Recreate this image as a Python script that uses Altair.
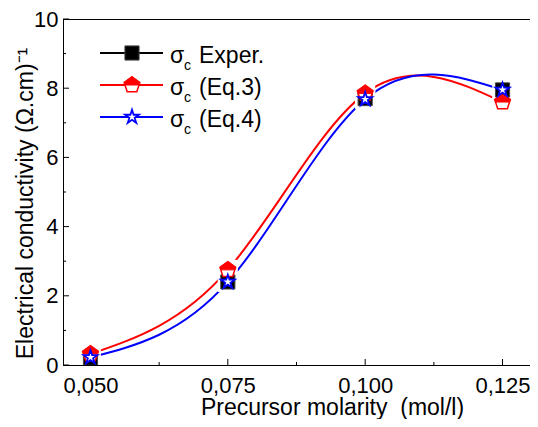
import altair as alt
import pandas as pd

# ---- data ----
molarity = [0.050, 0.075, 0.100, 0.125]
sigma_exper = [0.20, 2.40, 7.70, 7.95]
sigma_eq3 = [0.32, 2.75, 7.85, 7.60]
sigma_eq4 = [0.22, 2.40, 7.68, 7.95]

x_major = [0.050, 0.075, 0.100, 0.125]
x_minor = [0.0625, 0.0875, 0.1125]
y_major = [0, 2, 4, 6, 8, 10]
y_minor = [1, 3, 5, 7, 9]

legend_labels = ["Exper.", "(Eq.3)", "(Eq.4)"]

FONT = "Liberation Sans"
W, H = 467, 346
RED, BLUE, BLACK = "#ff0000", "#0000ff", "#000000"

PENT_FULL = "M0,-1L0.951,-0.309L0.588,0.809L-0.588,0.809L-0.951,-0.309Z"
PENT_TOP = "M0,-1L0.951,-0.309L0.851,0L-0.851,0L-0.951,-0.309Z"
STAR = ("M0,-1L0.2245,-0.309L0.951,-0.309L0.3633,0.118L0.588,0.809L0,0.382"
        "L-0.588,0.809L-0.3633,0.118L-0.951,-0.309L-0.2245,-0.309Z")

xs = alt.Scale(domain=[0.045, 0.130], nice=False, zero=False)
ys = alt.Scale(domain=[0, 10], nice=False, zero=False)

df_exp = pd.DataFrame({"m": molarity, "s": sigma_exper})
df_eq3 = pd.DataFrame({"m": molarity, "s": sigma_eq3})
df_eq4 = pd.DataFrame({"m": molarity, "s": sigma_eq4})
df_all = pd.concat([df_exp, df_eq3, df_eq4], ignore_index=True)

x_axis = alt.Axis(
    values=x_major,
    labelExpr="replace(format(datum.value, '.3f'), '.', ',')",
    ticks=False, grid=False, domain=True, domainColor=BLACK, domainWidth=1,
    labelFont=FONT, labelFontSize=22, labelColor=BLACK, labelPadding=10,
    labelBound=False, labelOverlap=False,
    title="Precursor molarity\u00a0 (mol/l)", titleFont=FONT, titleFontSize=23,
    titleFontWeight="normal", titleColor=BLACK, titleX=269, titleY=49,
    titleBaseline="alphabetic", titleAlign="center", zindex=1,
)
y_axis = alt.Axis(
    values=y_major, format="d",
    ticks=False, grid=False, domain=True, domainColor=BLACK, domainWidth=1,
    labelFont=FONT, labelFontSize=22, labelColor=BLACK, labelPadding=5,
    labelOverlap=False,
    title="Electrical conductivity (\u03a9.cm)\u207b\u00b9", titleFont=FONT,
    titleFontSize=23, titleFontWeight="normal", titleColor=BLACK,
    titleX=-38, titleY=184, titleAngle=270, titleBaseline="middle",
    titleAlign="center", zindex=1,
)


def X():
    return alt.X("m:Q", scale=xs, axis=x_axis)


def Y():
    return alt.Y("s:Q", scale=ys, axis=y_axis)


# inward ticks
xt_major = alt.Chart(pd.DataFrame({"m": x_major})).mark_rule(color=BLACK).encode(
    x=X(), y=alt.value(H), y2=alt.value(H - 6))
xt_minor = alt.Chart(pd.DataFrame({"m": x_minor})).mark_rule(color=BLACK).encode(
    x=X(), y=alt.value(H), y2=alt.value(H - 3))
yt_major = alt.Chart(pd.DataFrame({"s": y_major})).mark_rule(color=BLACK).encode(
    y=Y(), x=alt.value(0), x2=alt.value(6))
yt_minor = alt.Chart(pd.DataFrame({"s": y_minor})).mark_rule(color=BLACK).encode(
    y=Y(), x=alt.value(0), x2=alt.value(3))

line_eq3 = alt.Chart(df_eq3).mark_line(color=RED, strokeWidth=2, interpolate="natural").encode(x=X(), y=Y())
line_eq4 = alt.Chart(df_eq4).mark_line(color=BLUE, strokeWidth=2, interpolate="natural").encode(x=X(), y=Y())

halo = alt.Chart(df_all).mark_square(size=400, color="white", opacity=1).encode(x=X(), y=Y())


def square(data):
    return alt.Chart(data).mark_square(size=200, color=BLACK, stroke="#444444",
                                       strokeWidth=1, opacity=1)


def pent_bg(data):
    return alt.Chart(data).mark_point(shape=PENT_FULL, size=270, filled=True, fill="white",
                                      stroke=RED, strokeWidth=1.5, opacity=1)


def pent_top(data):
    return alt.Chart(data).mark_point(shape=PENT_TOP, size=270, filled=True, fill=RED,
                                      stroke=RED, strokeWidth=1, opacity=1)


def star(data):
    return alt.Chart(data).mark_point(shape=STAR, size=210, filled=True, fill="white",
                                      stroke=BLUE, strokeWidth=1.8, opacity=1)


pts = [
    square(df_exp).encode(x=X(), y=Y()),
    pent_bg(df_eq3).encode(x=X(), y=Y()),
    pent_top(df_eq3).encode(x=X(), y=Y()),
    star(df_eq4).encode(x=X(), y=Y()),
]

# legend (drawn by hand for the subscript)
one = pd.DataFrame({"k": [0]})
leg_layers = []
row_y = [34, 66, 98]
colors = [BLACK, RED, BLUE]
for i, (lab, col) in enumerate(zip(legend_labels, colors)):
    yy = row_y[i]
    leg_layers.append(alt.Chart(one).mark_rule(color=col, strokeWidth=2).encode(
        x=alt.value(37), x2=alt.value(100), y=alt.value(yy)))
    pos = dict(x=alt.value(69), y=alt.value(yy))
    if i == 0:
        leg_layers.append(square(one).encode(**pos))
    elif i == 1:
        leg_layers.append(pent_bg(one).encode(**pos))
        leg_layers.append(pent_top(one).encode(**pos))
    else:
        leg_layers.append(star(one).encode(**pos))
    leg_layers.append(alt.Chart(one).mark_text(
        text="\u03c3", font=FONT, fontSize=23, align="left", baseline="alphabetic", color=BLACK
    ).encode(x=alt.value(107), y=alt.value(yy + 10)))
    leg_layers.append(alt.Chart(one).mark_text(
        text="c", font=FONT, fontSize=14, align="left", baseline="alphabetic", color=BLACK
    ).encode(x=alt.value(121), y=alt.value(yy + 17)))
    leg_layers.append(alt.Chart(one).mark_text(
        text=lab, font=FONT, fontSize=23, align="left", baseline="alphabetic", color=BLACK
    ).encode(x=alt.value(136), y=alt.value(yy + 10)))

chart = alt.layer(
    xt_major, xt_minor, yt_major, yt_minor,
    line_eq3, line_eq4, halo, *pts, *leg_layers,
).properties(
    width=W, height=H,
    padding={"left": 55, "top": 11, "right": 0, "bottom": 54},
    autosize=alt.AutoSizeParams(type="none"),
).configure(
    font=FONT
).configure_view(
    stroke=BLACK, strokeWidth=1
)

chart.save("out.html", embed_options={"renderer": "svg", "actions": False})
